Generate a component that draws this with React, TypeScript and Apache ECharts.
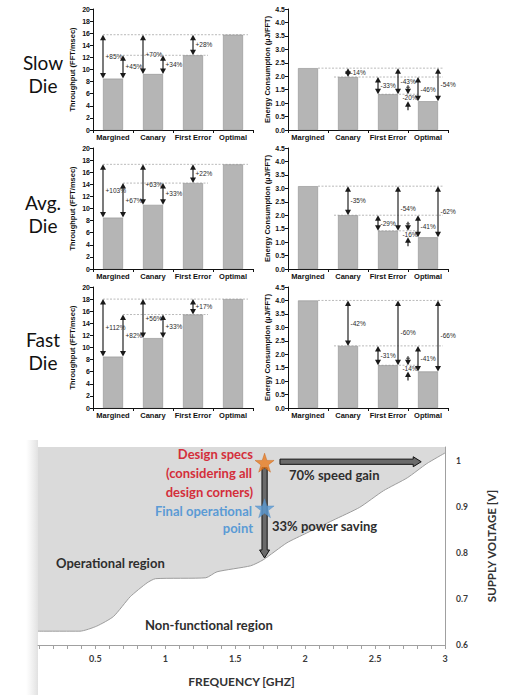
import React, { useEffect, useRef } from "react";
import * as echarts from "echarts";

// ---------- data ----------
const categories = ["Margined", "Canary", "First Error", "Optimal"];
const dieLabels = ["Slow\nDie", "Avg.\nDie", "Fast\nDie"];

const throughputSlow = [8.5, 9.25, 12.35, 15.75];
const throughputAvg = [8.5, 10.6, 14.2, 17.3];
const throughputFast = [8.5, 11.55, 15.45, 18.0];

const energySlow = [2.3, 1.97, 1.33, 1.07];
const energyAvg = [3.08, 2.0, 1.42, 1.18];
const energyFast = [4.0, 2.31, 1.59, 1.36];

// throughput arrows: [fromCat, toCat, atCat, side, label]
const tpArrowsSlow = [[0, 3, 0, -1, "+85%"], [0, 2, 0, 1, "+45%"], [1, 3, 1, -1, "+70%"], [1, 2, 1, 1, "+34%"], [2, 3, 2, 0, "+28%"]];
const tpArrowsAvg = [[0, 3, 0, -1, "+103%"], [0, 2, 0, 1, "+67%"], [1, 3, 1, -1, "+63%"], [1, 2, 1, 1, "+33%"], [2, 3, 2, 0, "+22%"]];
const tpArrowsFast = [[0, 3, 0, -1, "+112%"], [0, 2, 0, 1, "+82%"], [1, 3, 1, -1, "+56%"], [1, 2, 1, 1, "+33%"], [2, 3, 2, 0, "+17%"]];

// energy arrows: [fromCat, toCat, atCat, side, label]
const enArrowsSlow = [[0, 1, 1, 0, "-14%"], [1, 2, 2, -1, "-33%"], [0, 2, 2, 1, "-43%"], [1, 3, 3, -1, "-46%"], [0, 3, 3, 1, "-54%"]];
const enArrowsAvg = [[0, 1, 1, 0, "-35%"], [1, 2, 2, -1, "-29%"], [0, 2, 2, 1, "-54%"], [1, 3, 3, -1, "-41%"], [0, 3, 3, 1, "-62%"]];
const enArrowsFast = [[0, 1, 1, 0, "-42%"], [1, 2, 2, -1, "-31%"], [0, 2, 2, 1, "-60%"], [1, 3, 3, -1, "-41%"], [0, 3, 3, 1, "-66%"]];
// inward pair between First Error and Optimal: [hiCat, loCat, label]
const enInwardSlow = [[2, 3, "-20%"]];
const enInwardAvg = [[2, 3, "-16%"]];
const enInwardFast = [[2, 3, "-14%"]];

// reference lines: [valueCat, fromCat, fromSide, toCat, toSide]
const tpRefLines = [[3, 0, -1, 3, 1.5], [2, 0, 1, 2, 1.5]];
const enRefLines = [[0, 0, 1, 3, 1.5], [1, 1, -1.4, 3, 1.5], [2, 2, -1, 3, -1]];

// bottom chart
const freqBoundary = [0.09, 0.39, 0.51, 0.63, 0.75, 0.87, 0.93, 1.29, 1.37, 1.61, 1.7, 1.87, 2.01, 2.2, 2.39, 2.56, 2.73, 2.87, 3.0];
const voltBoundary = [0.63, 0.63, 0.641, 0.662, 0.705, 0.735, 0.744, 0.746, 0.759, 0.772, 0.785, 0.822, 0.843, 0.871, 0.899, 0.935, 0.963, 0.994, 1.017];
const designSpec = [1.71, 0.996];
const finalPoint = [1.71, 0.897];
const speedArrow = [[1.82, 0.998], [2.83, 0.998]];
const powerArrow = [[1.71, 0.985], [1.71, 0.789]];
const freqTicks = [0.5, 1, 1.5, 2, 2.5, 3];
const freqMinorTicks = [0.1, 0.2, 0.3, 0.4, 0.5, 0.6, 0.7, 0.8, 0.9, 1.0, 1.1, 1.2, 1.3, 1.4, 1.5, 1.6, 1.7, 1.8, 1.9, 2.0, 2.1, 2.2, 2.3, 2.4, 2.5, 2.6, 2.7, 2.8, 2.9, 3.0];
const voltTicks = [0.6, 0.7, 0.8, 0.9, 1];

const STAR = "path://M50,2 L61.8,36.2 L97.6,36.2 L68.6,57.4 L79.6,91.6 L50,70.4 L20.4,91.6 L31.4,57.4 L2.4,36.2 L38.2,36.2 Z";
const ARIAL = '"Liberation Sans", Arial, sans-serif';
const CAL = 'Lato, "Open Sans", sans-serif';

function labelEl(text: string, x: number, y: number, align: string) {
  return {
    type: "text",
    style: {
      legacy: false,
      text,
      x,
      y,
      fill: "#2a2a2a",
      fontSize: 6.5,
      fontFamily: ARIAL,
      align,
      verticalAlign: "middle",
    },
  };
}

function arrowSeries(idx: number, values: number[], arrows: any[]) {
  return {
    type: "custom",
    xAxisIndex: idx,
    yAxisIndex: idx,
    coordinateSystem: "cartesian2d",
    silent: true,
    clip: false,
    z: 5,
    encode: { x: 0, y: 1 },
    data: arrows.map((a) => [a[2], values[a[0]]]),
    renderItem: (params: any, api: any) => {
      const a = arrows[params.dataIndex];
      const bw = api.size([1, 0])[0] * 0.5;
      const p1 = api.coord([a[2], values[a[0]]]);
      const p2 = api.coord([a[2], values[a[1]]]);
      const x = p1[0] + (a[3] * bw) / 2;
      const yT = Math.min(p1[1], p2[1]);
      const yB = Math.max(p1[1], p2[1]);
      const c = "#1a1a1a";
      return {
        type: "group",
        children: [
          { type: "line", shape: { x1: x, y1: yT + 4, x2: x, y2: yB - 4 }, style: { stroke: "#333", lineWidth: 1.3 } },
          { type: "polygon", shape: { points: [[x, yT], [x - 3, yT + 5.5], [x + 3, yT + 5.5]] }, style: { fill: c } },
          { type: "polygon", shape: { points: [[x, yB], [x - 3, yB - 5.5], [x + 3, yB - 5.5]] }, style: { fill: c } },
          labelEl(a[4], x + 2.5, (yT + yB) / 2, "left"),
        ],
      };
    },
  };
}

function inwardSeries(idx: number, values: number[], pairs: any[]) {
  return {
    type: "custom",
    xAxisIndex: idx,
    yAxisIndex: idx,
    coordinateSystem: "cartesian2d",
    silent: true,
    clip: false,
    z: 5,
    encode: { x: 0, y: 1 },
    data: pairs.map((p) => [p[0], values[p[0]]]),
    renderItem: (params: any, api: any) => {
      const p = pairs[params.dataIndex];
      const cw = api.size([1, 0])[0];
      const hi = api.coord([p[0], values[p[0]]]);
      const lo = api.coord([p[0], values[p[1]]]);
      const x = hi[0] + cw / 2;
      const yH = hi[1];
      const yL = lo[1];
      const c = "#1a1a1a";
      return {
        type: "group",
        children: [
          { type: "line", shape: { x1: x, y1: yH - 9, x2: x, y2: yH - 3 }, style: { stroke: "#333", lineWidth: 1.3 } },
          { type: "line", shape: { x1: x - 2, y1: yH - 7, x2: x + 2, y2: yH - 7 }, style: { stroke: "#333", lineWidth: 0.8 } },
          { type: "polygon", shape: { points: [[x, yH], [x - 3, yH - 5.5], [x + 3, yH - 5.5]] }, style: { fill: c } },
          { type: "line", shape: { x1: x, y1: yL + 3, x2: x, y2: yL + 9 }, style: { stroke: "#333", lineWidth: 1.3 } },
          { type: "polygon", shape: { points: [[x, yL], [x - 3, yL + 5.5], [x + 3, yL + 5.5]] }, style: { fill: c } },
          labelEl(p[2], x + 2, (yH + yL) / 2, "center"),
        ],
      };
    },
  };
}

function refLineSeries(idx: number, values: number[], lines: any[]) {
  return {
    type: "custom",
    xAxisIndex: idx,
    yAxisIndex: idx,
    coordinateSystem: "cartesian2d",
    silent: true,
    clip: false,
    z: 1,
    encode: { x: 0, y: 1 },
    data: lines.map((l) => [l[1], values[l[0]]]),
    renderItem: (params: any, api: any) => {
      const l = lines[params.dataIndex];
      const bw = api.size([1, 0])[0] * 0.5;
      const a = api.coord([l[1], values[l[0]]]);
      const b = api.coord([l[3], values[l[0]]]);
      return {
        type: "line",
        shape: { x1: a[0] + (l[2] * bw) / 2, y1: a[1], x2: b[0] + (l[4] * bw) / 2, y2: b[1] },
        style: { stroke: "#a8a8a8", lineWidth: 0.8, lineDash: [2, 1.5] },
      };
    },
  };
}

function bigArrowSeries(pts: number[][], idx: number) {
  return {
    type: "custom",
    xAxisIndex: idx,
    yAxisIndex: idx,
    coordinateSystem: "cartesian2d",
    silent: true,
    clip: false,
    z: 6,
    encode: { x: 0, y: 1 },
    data: [pts[0]],
    renderItem: (params: any, api: any) => {
      const a = api.coord(pts[0]);
      const b = api.coord(pts[1]);
      const dx = b[0] - a[0];
      const dy = b[1] - a[1];
      const len = Math.sqrt(dx * dx + dy * dy);
      const ux = dx / len, uy = dy / len;
      const nx = -uy, ny = ux;
      const sw = 2.6, hw = 5, hl = 8;
      const hx = b[0] - ux * hl, hy = b[1] - uy * hl;
      const points = [
        [a[0] + nx * sw, a[1] + ny * sw],
        [hx + nx * sw, hy + ny * sw],
        [hx + nx * hw, hy + ny * hw],
        [b[0], b[1]],
        [hx - nx * hw, hy - ny * hw],
        [hx - nx * sw, hy - ny * sw],
        [a[0] - nx * sw, a[1] - ny * sw],
      ];
      return { type: "polygon", shape: { points }, style: { fill: "#6a6a6a", stroke: "#111", lineWidth: 1 } };
    },
  };
}

export default function App() {
  const ref = useRef<HTMLDivElement>(null);
  useEffect(() => {
    if (!ref.current) return;
    const chart = echarts.init(ref.current, null, { renderer: "svg" });
    const tops = [9, 148, 287];
    const tpVals = [throughputSlow, throughputAvg, throughputFast];
    const enVals = [energySlow, energyAvg, energyFast];
    const tpArr = [tpArrowsSlow, tpArrowsAvg, tpArrowsFast];
    const enArr = [enArrowsSlow, enArrowsAvg, enArrowsFast];
    const enIn = [enInwardSlow, enInwardAvg, enInwardFast];

    const grids: any[] = [];
    const xAxes: any[] = [];
    const yAxes: any[] = [];
    const series: any[] = [];

    const catAxis = (gi: number) => ({
      type: "category",
      gridIndex: gi,
      data: categories,
      axisLine: { lineStyle: { color: "#111", width: 1 } },
      axisTick: { show: true, length: 3, lineStyle: { color: "#111" } },
      axisLabel: { interval: 0, margin: 3, fontSize: 7.5, fontWeight: "bold", fontFamily: ARIAL, color: "#111" },
    });

    for (let i = 0; i < 3; i++) {
      const gT = grids.length;
      grids.push({ left: 93, top: tops[i], width: 160, height: 121 });
      xAxes.push(catAxis(gT));
      yAxes.push({
        type: "value",
        gridIndex: gT,
        min: 0,
        max: 20,
        interval: 2,
        name: "Throughput (FFT/msec)",
        nameLocation: "middle",
        nameGap: 17,
        nameTextStyle: { fontSize: 7.5, fontWeight: "bold", fontFamily: ARIAL, color: "#111" },
        axisLine: { show: true, lineStyle: { color: "#111" } },
        axisTick: { show: true, length: 3, lineStyle: { color: "#111" } },
        splitLine: { show: false },
        axisLabel: { margin: 3, fontSize: 7, fontWeight: "bold", fontFamily: ARIAL, color: "#111" },
      });
      series.push({
        type: "bar",
        xAxisIndex: gT,
        yAxisIndex: gT,
        data: tpVals[i],
        barWidth: "50%",
        itemStyle: { color: "#b5b5b5", borderColor: "#8e8e8e", borderWidth: 0.6 },
        z: 2,
      });
      series.push(refLineSeries(gT, tpVals[i], tpRefLines));
      series.push(arrowSeries(gT, tpVals[i], tpArr[i]));

      const gE = grids.length;
      grids.push({ left: 288, top: tops[i], width: 160, height: 121 });
      xAxes.push(catAxis(gE));
      yAxes.push({
        type: "value",
        gridIndex: gE,
        min: 0,
        max: 4.5,
        interval: 0.5,
        name: "Energy Consumption (\u00b5J/FFT)",
        nameLocation: "middle",
        nameGap: 17,
        nameTextStyle: { fontSize: 7.5, fontWeight: "bold", fontFamily: ARIAL, color: "#111" },
        axisLine: { show: true, lineStyle: { color: "#111" } },
        axisTick: { show: true, length: 3, lineStyle: { color: "#111" } },
        splitLine: { show: false },
        axisLabel: { margin: 3, fontSize: 7, fontWeight: "bold", fontFamily: ARIAL, color: "#111", formatter: (v: number) => v.toFixed(1) },
      });
      series.push({
        type: "bar",
        xAxisIndex: gE,
        yAxisIndex: gE,
        data: enVals[i],
        barWidth: "50%",
        itemStyle: { color: "#b5b5b5", borderColor: "#8e8e8e", borderWidth: 0.6 },
        z: 2,
      });
      series.push(refLineSeries(gE, enVals[i], enRefLines));
      series.push(arrowSeries(gE, enVals[i], enArr[i]));
      series.push(inwardSeries(gE, enVals[i], enIn[i]));
    }

    // bottom chart
    const gB = grids.length;
    grids.push({ left: 38, right: 60, top: 447, bottom: 50 });
    xAxes.push({
      type: "value",
      gridIndex: gB,
      min: 0.09,
      max: 3,
      name: "FREQUENCY [GHZ]",
      nameLocation: "middle",
      nameGap: 30,
      nameTextStyle: { fontSize: 12, fontWeight: "bold", fontFamily: CAL, color: "#333" },
      axisLine: { lineStyle: { color: "#a0a0a0" } },
      axisTick: { show: true, length: 4, customValues: freqMinorTicks, lineStyle: { color: "#a0a0a0" } },
      axisLabel: { customValues: freqTicks, margin: 9, fontSize: 9, fontWeight: "bold", fontFamily: CAL, color: "#3a3a3a", formatter: (v: number) => String(v) },
      splitLine: { show: false },
    });
    yAxes.push({
      type: "value",
      gridIndex: gB,
      position: "right",
      min: 0.6,
      max: 1.03,
      name: "SUPPLY VOLTAGE [V]",
      nameLocation: "middle",
      nameRotate: 90,
      nameGap: 40,
      nameTextStyle: { fontSize: 11.5, fontWeight: "bold", fontFamily: CAL, color: "#333" },
      axisLine: { show: true, lineStyle: { color: "#a0a0a0" } },
      axisTick: { show: false },
      axisLabel: { customValues: voltTicks, margin: 11, fontSize: 8.5, fontWeight: "bold", fontFamily: CAL, color: "#3a3a3a", formatter: (v: number) => String(v) },
      splitLine: { show: false },
    });
    series.push({
      type: "line",
      xAxisIndex: gB,
      yAxisIndex: gB,
      data: freqBoundary.map((f, k) => [f, voltBoundary[k]]),
      smooth: 0.2,
      symbol: "none",
      lineStyle: { color: "#9c9c9c", width: 1 },
      areaStyle: { origin: "end", color: "#dadada", opacity: 1 },
      z: 1,
    });
    series.push(bigArrowSeries(speedArrow, gB));
    series.push(bigArrowSeries(powerArrow, gB));
    series.push({
      type: "scatter",
      xAxisIndex: gB,
      yAxisIndex: gB,
      symbol: STAR,
      symbolSize: 19,
      data: [
        { value: designSpec, itemStyle: { color: "#e87a1e", borderColor: "#c55a0a", borderWidth: 0.5 } },
        { value: finalPoint, itemStyle: { color: "#5b9bd5", borderColor: "#4a86c0", borderWidth: 0.5 } },
      ],
      z: 8,
    });

    const txt = (text: string, x: number, y: number, fill: string, align: string, size = 13) => ({
      type: "text",
      x,
      y,
      style: { text, fill, font: `bold ${size}px ${CAL}`, align, verticalAlign: "middle" },
      z: 20,
    });

    const graphic: any[] = [
      {
        type: "rect",
        shape: { x: 26, y: 440, width: 12, height: 255 },
        style: {
          fill: new echarts.graphic.LinearGradient(0, 0, 1, 0, [
            { offset: 0, color: "rgba(230,230,230,0)" },
            { offset: 1, color: "rgba(225,225,225,1)" },
          ]),
        },
        z: 0,
      },
    ];
    dieLabels.forEach((d, i) => {
      graphic.push({
        type: "text",
        x: 43,
        y: [74, 214, 351][i],
        style: { text: d, fill: "#111", font: `19px ${CAL}`, align: "center", verticalAlign: "middle", lineHeight: 23 },
      });
    });
    graphic.push(txt("Design specs", 253, 454, "#d42e3a", "right"));
    graphic.push(txt("(considering all", 252, 473, "#d42e3a", "right"));
    graphic.push(txt("design corners)", 253, 492, "#d42e3a", "right"));
    graphic.push(txt("Final operational", 252, 511, "#5b9bd5", "right"));
    graphic.push(txt("point", 253, 528, "#5b9bd5", "right"));
    graphic.push(txt("70% speed gain", 289, 475, "#2e2e2e", "left"));
    graphic.push(txt("33% power saving", 272, 526, "#2e2e2e", "left"));
    graphic.push(txt("Operational region", 56, 563, "#2e2e2e", "left"));
    graphic.push(txt("Non-functional region", 145, 625, "#2e2e2e", "left"));

    chart.setOption({
      animation: false,
      backgroundColor: "#ffffff",
      grid: grids,
      xAxis: xAxes,
      yAxis: yAxes,
      series,
      graphic,
    });
    return () => chart.dispose();
  }, []);
  return <div ref={ref} style={{ position: "fixed", left: 0, top: 0, width: 505, height: 695 }} />;
}
